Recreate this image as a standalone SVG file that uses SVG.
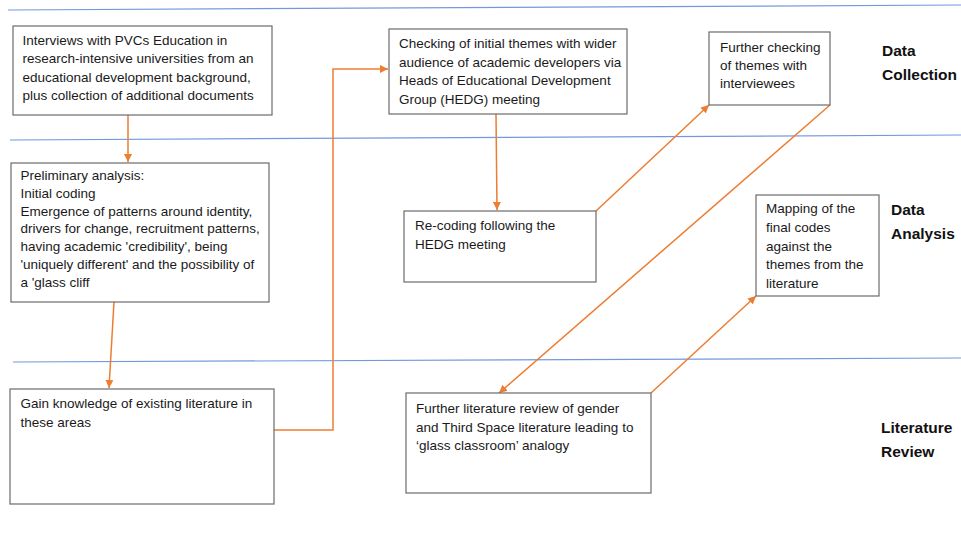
<svg xmlns="http://www.w3.org/2000/svg" width="961" height="534" viewBox="0 0 961 534">
<defs>
<style>
.box{fill:#fff;stroke:#6b6b6b;stroke-width:1.2}
.t{font-family:"Liberation Sans",Arial,sans-serif;font-size:13.5px;fill:#1a1a1a}
.lbl{font-family:"Liberation Sans",Arial,sans-serif;font-size:15.5px;font-weight:bold;fill:#111}
.sep{stroke:#7299e0;stroke-width:1.2;fill:none}
.c{stroke:#ED7D31;stroke-width:1.5;fill:none}
</style>
<marker id="ah" viewBox="0 0 10 10" refX="10" refY="5" markerWidth="8" markerHeight="8" markerUnits="userSpaceOnUse" orient="auto">
<path d="M0,0 L10,5 L0,10 z" fill="#ED7D31"/>
</marker>
</defs>
<rect width="961" height="534" fill="#fff"/>
<g id="separators">
<line class="sep" x1="8" y1="10" x2="961" y2="5"/>
<line class="sep" x1="10" y1="140" x2="961" y2="135"/>
<line class="sep" x1="13" y1="362" x2="961" y2="358"/>
</g>
<g id="phase-labels">
<text class="lbl" x="882" y="56">Data</text>
<text class="lbl" x="882" y="80">Collection</text>
<text class="lbl" x="891" y="215">Data</text>
<text class="lbl" x="891" y="239">Analysis</text>
<text class="lbl" x="881" y="433">Literature</text>
<text class="lbl" x="881" y="457">Review</text>
</g>
<g id="connectors">
<line class="c" x1="128" y1="115" x2="128" y2="162" marker-end="url(#ah)"/>
<line class="c" x1="114" y1="302" x2="109" y2="388" marker-end="url(#ah)"/>
<polyline class="c" points="274,430 333,430 333,69 388,69" marker-end="url(#ah)"/>
<line class="c" x1="496" y1="114" x2="497" y2="210" marker-end="url(#ah)"/>
<line class="c" x1="596" y1="211" x2="709" y2="105" marker-end="url(#ah)"/>
<line class="c" x1="830" y1="105" x2="499" y2="393" marker-end="url(#ah)"/>
<line class="c" x1="651" y1="393" x2="756" y2="296" marker-end="url(#ah)"/>
</g>
<g id="n1">
<rect class="box" x="13" y="26" width="259" height="89"/>
<text class="t" x="22.5" y="45">Interviews with PVCs Education in</text>
<text class="t" x="22.5" y="63.3">research-intensive universities from an</text>
<text class="t" x="22.5" y="81.7">educational development background,</text>
<text class="t" x="22.5" y="100">plus collection of additional documents</text>
</g>
<g id="n2">
<rect class="box" x="11" y="163" width="258" height="139"/>
<text class="t" x="20.5" y="180">Preliminary analysis:</text>
<text class="t" x="20.5" y="197.8">Initial coding</text>
<text class="t" x="20.5" y="215.6">Emergence of patterns around identity,</text>
<text class="t" x="20.5" y="233.4">drivers for change, recruitment patterns,</text>
<text class="t" x="20.5" y="251.2">having academic 'credibility', being</text>
<text class="t" x="20.5" y="269">'uniquely different' and the possibility of</text>
<text class="t" x="20.5" y="286.8">a 'glass cliff</text>
</g>
<g id="n3">
<rect class="box" x="10" y="389" width="264" height="115"/>
<text class="t" x="20.5" y="408.3">Gain knowledge of existing literature in</text>
<text class="t" x="20.5" y="426.7">these areas</text>
</g>
<g id="n4">
<rect class="box" x="389" y="29" width="238" height="85"/>
<text class="t" x="399" y="47.7">Checking of initial themes with wider</text>
<text class="t" x="399" y="66.5">audience of academic developers via</text>
<text class="t" x="399" y="85.3">Heads of Educational Development</text>
<text class="t" x="399" y="104">Group (HEDG) meeting</text>
</g>
<g id="n5">
<rect class="box" x="404" y="211" width="192" height="71"/>
<text class="t" x="415" y="230">Re-coding following the</text>
<text class="t" x="415" y="248.7">HEDG meeting</text>
</g>
<g id="n6">
<rect class="box" x="406" y="393" width="245" height="100"/>
<text class="t" x="416" y="413.3">Further literature review of gender</text>
<text class="t" x="416" y="431.7">and Third Space literature leading to</text>
<text class="t" x="416" y="450">‘glass classroom’ analogy</text>
</g>
<g id="n7">
<rect class="box" x="709" y="32" width="121" height="73"/>
<text class="t" x="720" y="51.7">Further checking</text>
<text class="t" x="720" y="70">of themes with</text>
<text class="t" x="720" y="88.3">interviewees</text>
</g>
<g id="n8">
<rect class="box" x="756" y="195" width="123" height="101"/>
<text class="t" x="766" y="213.3">Mapping of the</text>
<text class="t" x="766" y="232">final codes</text>
<text class="t" x="766" y="250.7">against the</text>
<text class="t" x="766" y="269.3">themes from the</text>
<text class="t" x="766" y="288">literature</text>
</g>
</svg>
